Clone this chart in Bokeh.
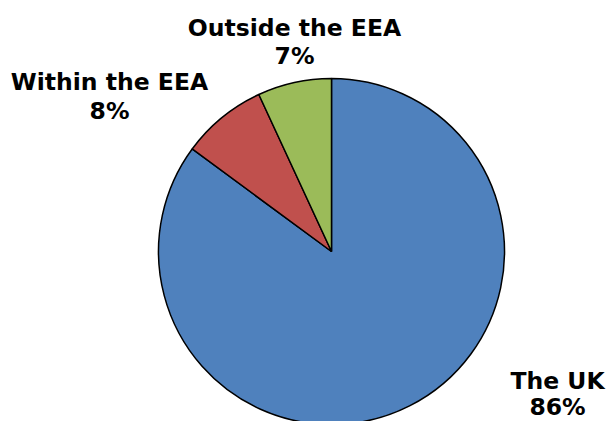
import math
from bokeh.plotting import figure
from bokeh.models import ColumnDataSource, Range1d
from bokeh.core.properties import value
from bokeh.embed import file_html
from bokeh.resources import INLINE

# Data (clockwise from 12 o'clock)
categories = ["The UK", "Within the EEA", "Outside the EEA"]
shares = [85.1, 8.0, 6.9]
pct_labels = ["86%", "8%", "7%"]
colors = ["#4F81BD", "#C0504D", "#9BBB59"]

W, H = 607, 421
cx, cy, r = 331, H - 251, 173

# clockwise from top: compute angles
total = sum(shares)
starts, ends = [], []
acc = 0.0
for s in shares:
    a0 = math.pi / 2 - 2 * math.pi * acc / total
    acc += s
    a1 = math.pi / 2 - 2 * math.pi * acc / total
    starts.append(a1)
    ends.append(a0)

src = ColumnDataSource(dict(x=[cx] * 3, y=[cy] * 3, start=starts, end=ends,
                            color=colors, cat=categories))

p = figure(width=W, height=H, x_range=Range1d(0, W), y_range=Range1d(0, H),
           x_axis_location=None, y_axis_location=None, toolbar_location=None,
           output_backend="svg", min_border=0, outline_line_color=None)
p.grid.visible = False

p.wedge(x="x", y="y", radius=r, start_angle="start", end_angle="end",
        fill_color="color", line_color="black", line_width=1.5, source=src)

# label layout (pixel coordinates of line centres)
label_x = [557, 109, 294]
name_y = [380, 81, 27]
pct_y = [406, 110, 55]

lab = ColumnDataSource(dict(x=label_x, ny=[H - v for v in name_y],
                            py=[H - v for v in pct_y],
                            name=categories, pct=pct_labels))
for ycol, tcol in (("ny", "name"), ("py", "pct")):
    p.text(x="x", y=ycol, text=tcol, source=lab, text_align="center",
           text_baseline="middle", text_font=value("DejaVu Sans"),
           text_font_style="bold", text_font_size="23.5px", text_color="black")

open("out.html", "w").write(file_html(p, INLINE))
